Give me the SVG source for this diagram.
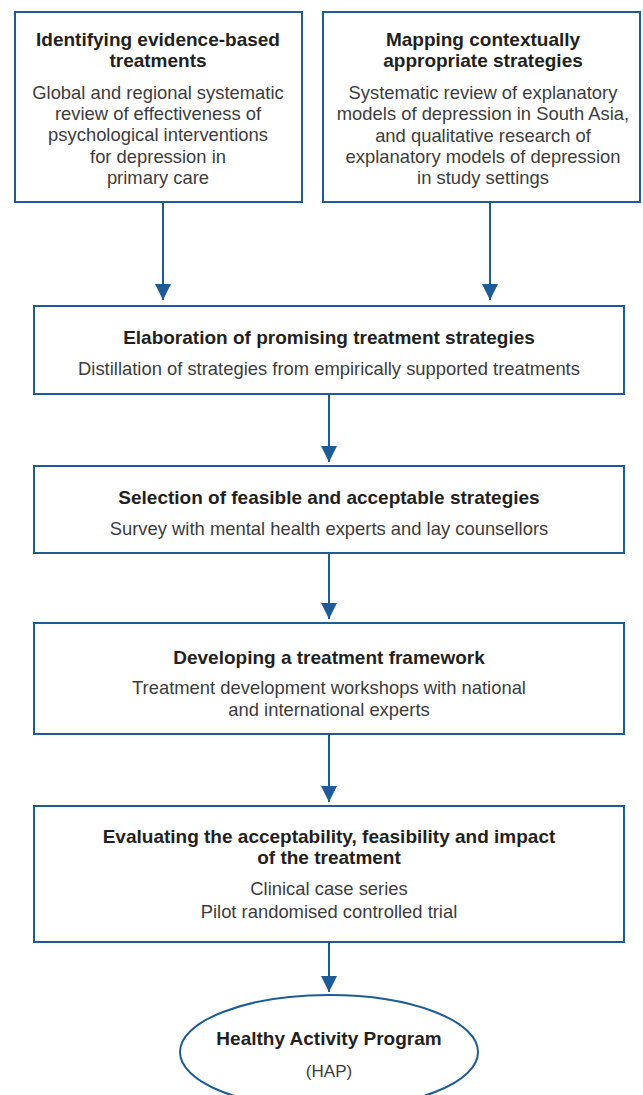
<svg xmlns="http://www.w3.org/2000/svg" width="643" height="1095" viewBox="0 0 643 1095">
<style>
.box{fill:#fff;stroke:#1d5c97;stroke-width:2}
.conn{stroke:#1d5c97;stroke-width:2;fill:none}
.t{font-family:"Liberation Sans",Arial,sans-serif;font-size:19px;font-weight:bold;fill:#231f20;text-anchor:middle}
.s{font-family:"Liberation Sans",Arial,sans-serif;font-size:18.4px;fill:#3c3c3c;text-anchor:middle}
</style>
<defs>
<marker id="ah" markerUnits="userSpaceOnUse" viewBox="0 0 16 16" markerWidth="16" markerHeight="16" refX="16" refY="8" orient="auto">
<path d="M0,0 L16,8 L0,16 z" fill="#1d5c97"/>
</marker>
</defs>
<rect width="643" height="1095" fill="#fff"/>
<g id="connectors">
<line class="conn" x1="163" y1="202" x2="163" y2="300" marker-end="url(#ah)"/>
<line class="conn" x1="490" y1="202" x2="490" y2="300" marker-end="url(#ah)"/>
<line class="conn" x1="329" y1="394" x2="329" y2="462" marker-end="url(#ah)"/>
<line class="conn" x1="329" y1="553" x2="329" y2="619" marker-end="url(#ah)"/>
<line class="conn" x1="329" y1="734" x2="329" y2="802" marker-end="url(#ah)"/>
<line class="conn" x1="329" y1="942" x2="329" y2="992" marker-end="url(#ah)"/>
</g>
<g id="n1">
<rect class="box" x="15" y="12" width="287" height="190"/>
<text class="t" x="158" y="46">Identifying evidence-based</text>
<text class="t" x="158" y="67">treatments</text>
<text class="s" x="158" y="99">Global and regional systematic</text>
<text class="s" x="158" y="120">review of effectiveness of</text>
<text class="s" x="158" y="141">psychological interventions</text>
<text class="s" x="158" y="163">for depression in</text>
<text class="s" x="158" y="184">primary care</text>
</g>
<g id="n2">
<rect class="box" x="323" y="12" width="317" height="190"/>
<text class="t" x="483" y="46">Mapping contextually</text>
<text class="t" x="483" y="67">appropriate strategies</text>
<text class="s" x="483" y="99">Systematic review of explanatory</text>
<text class="s" x="483" y="120">models of depression in South Asia,</text>
<text class="s" x="483" y="142">and qualitative research of</text>
<text class="s" x="483" y="163">explanatory models of depression</text>
<text class="s" x="483" y="184">in study settings</text>
</g>
<g id="n3">
<rect class="box" x="34" y="306" width="590" height="88"/>
<text class="t" x="329" y="344">Elaboration of promising treatment strategies</text>
<text class="s" x="329" y="375">Distillation of strategies from empirically supported treatments</text>
</g>
<g id="n4">
<rect class="box" x="34" y="466" width="590" height="87"/>
<text class="t" x="329" y="504">Selection of feasible and acceptable strategies</text>
<text class="s" x="329" y="535">Survey with mental health experts and lay counsellors</text>
</g>
<g id="n5">
<rect class="box" x="34" y="623" width="590" height="111"/>
<text class="t" x="329" y="664">Developing a treatment framework</text>
<text class="s" x="329" y="694">Treatment development workshops with national</text>
<text class="s" x="329" y="716">and international experts</text>
</g>
<g id="n6">
<rect class="box" x="34" y="806" width="590" height="136"/>
<text class="t" x="329" y="843">Evaluating the acceptability, feasibility and impact</text>
<text class="t" x="329" y="864">of the treatment</text>
<text class="s" x="329" y="895">Clinical case series</text>
<text class="s" x="329" y="918">Pilot randomised controlled trial</text>
</g>
<g id="n7">
<ellipse class="box" cx="329" cy="1052" rx="149" ry="57"/>
<text class="t" x="329" y="1045">Healthy Activity Program</text>
<text class="s" x="329" y="1077" style="font-size:17px">(HAP)</text>
</g>
</svg>
